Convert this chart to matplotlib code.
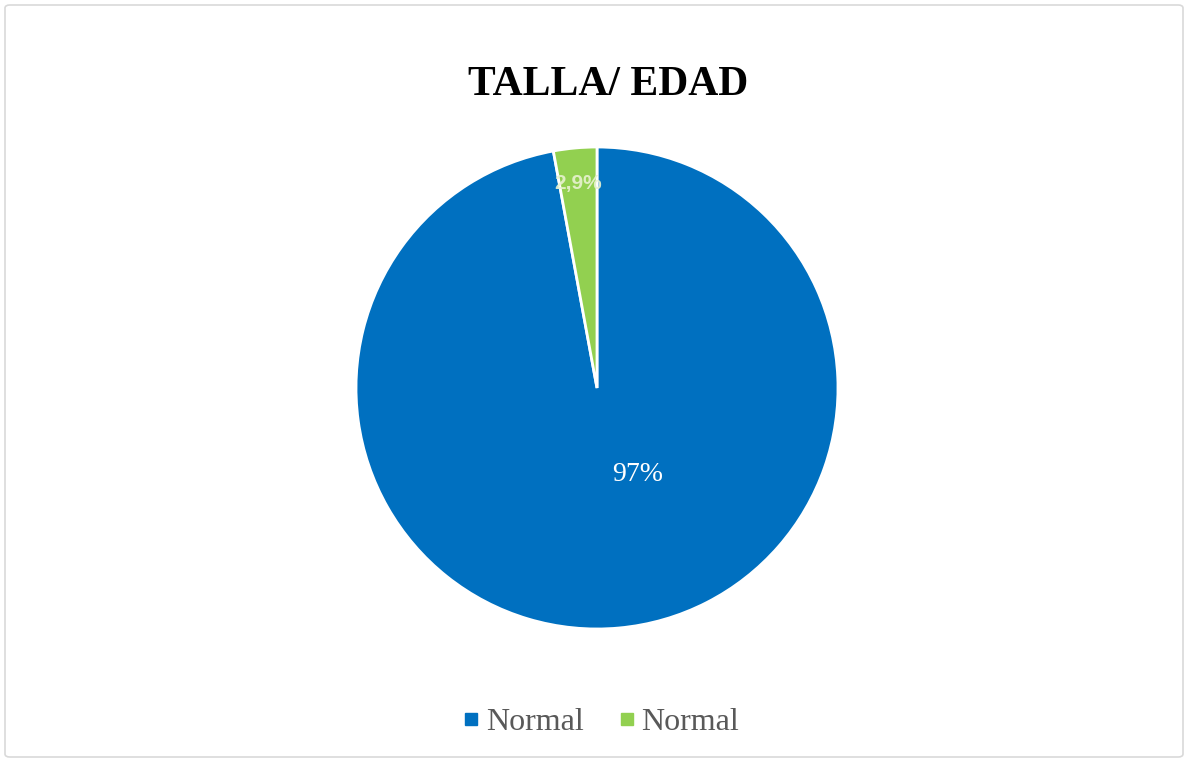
import matplotlib
matplotlib.use("Agg")
import matplotlib.pyplot as plt
from matplotlib.patches import FancyBboxPatch
from matplotlib.lines import Line2D

# data
labels = ["Normal", "Normal"]
values = [97.1, 2.9]
pct_text = ["97%", "2,9%"]
colors = ["#0070C0", "#92D050"]

W, H = 1188, 762
fig = plt.figure(figsize=(W / 100, H / 100), dpi=100)

# chart border
fig.patches.append(FancyBboxPatch((5 / W, 5 / H), 1 - 10 / W, 1 - 10 / H,
                                  boxstyle="round,pad=0,rounding_size=0.004",
                                  transform=fig.transFigure, fill=False,
                                  edgecolor="#d9d9d9", linewidth=1.2))

cx, cy, r = 597, 762 - 388, 241
ax = fig.add_axes([(cx - r) / W, (cy - r) / H, 2 * r / W, 2 * r / H])
wedges, _ = ax.pie(values, colors=colors, startangle=90, counterclock=False,
                   radius=1, wedgeprops=dict(edgecolor="white", linewidth=2))
ax.set_xlim(-1, 1)
ax.set_ylim(-1, 1)
ax.set_aspect("equal")
ax.axis("off")

# data labels
ax.text(0.17, -0.36, pct_text[0], color="white", ha="center", va="center",
        fontsize=20, family="Liberation Serif")
ax.text(-0.08, 0.85, pct_text[1], color="#e8f2d0", ha="center", va="center",
        fontsize=15, fontweight="bold", family="Liberation Sans", alpha=0.9)

fig.text(608 / W, 1 - 85 / H, "TALLA/ EDAD", ha="center", va="center",
         fontsize=30, fontweight="bold", family="Liberation Serif")

handles = [Line2D([], [], marker="s", linestyle="none", markersize=8,
                  markerfacecolor=c, markeredgecolor=c) for c in colors]
fig.legend(handles, labels, loc="center", bbox_to_anchor=(601 / W, 40 / H),
           ncol=2, frameon=False, handlelength=0.5, handletextpad=0.2,
           columnspacing=1.1,
           prop={"family": "Liberation Serif", "size": 23},
           labelcolor="#595959")

fig.savefig("out.png", dpi=100)
